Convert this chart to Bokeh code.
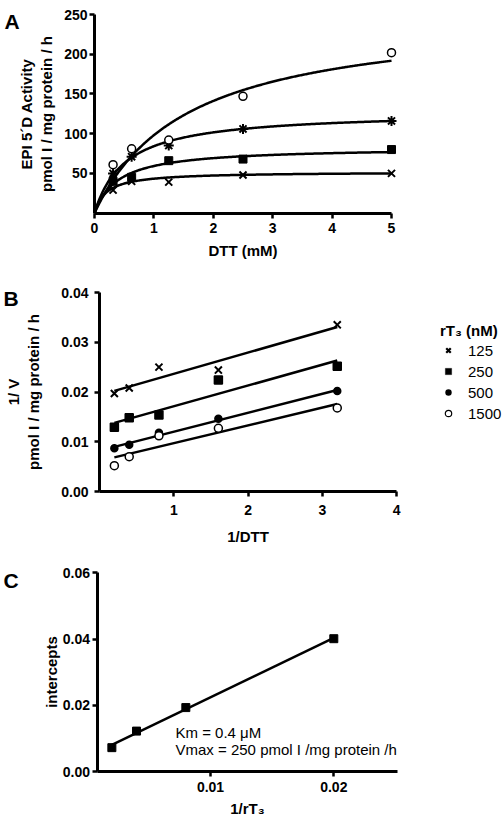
import numpy as np
from bokeh.plotting import figure
from bokeh.layouts import column
from bokeh.models import (FixedTicker, NumeralTickFormatter, Legend, LegendItem,
                          Label, Range1d)
from bokeh.embed import file_html
from bokeh.resources import INLINE

# ---------------- Panel A data ----------------
dtt = [0.3125, 0.625, 1.25, 2.5, 5.0]
a_circle = [61, 81, 92, 147, 202]
a_asterisk = [50, 71, 85, 106, 116]
a_square = [40, 45, 66, 68, 80]
a_x = [29, 40, 39, 48, 50]
# fitted Michaelis-Menten parameters (Vmax, Km)
fit_circle = (252, 1.57)
fit_asterisk = (128, 0.52)
fit_square = (83, 0.40)
fit_x = (52, 0.20)
a_xticks = [0, 1, 2, 3, 4, 5]
a_yticks = [50, 100, 150, 200, 250]

# ---------------- Panel B data ----------------
inv_dtt = [0.2, 0.4, 0.8, 1.6, 3.2]
b_125 = [0.0197, 0.0208, 0.0250, 0.0244, 0.0335]
b_250 = [0.0129, 0.0148, 0.0154, 0.0224, 0.0252]
b_500 = [0.0087, 0.0094, 0.0118, 0.0146, 0.0202]
b_1500 = [0.0052, 0.0070, 0.0112, 0.0127, 0.0168]
b_labels = ["125", "250", "500", "1500"]
b_xticks = [1, 2, 3, 4]
b_yticks = [0.0, 0.01, 0.02, 0.03, 0.04]

# ---------------- Panel C data ----------------
inv_rt3 = [0.002, 0.004, 0.008, 0.020]
intercepts = [0.0072, 0.0122, 0.0193, 0.0401]
c_xticks = [0.01, 0.02]
c_yticks = [0.0, 0.02, 0.04, 0.06]

FONT = "Liberation Sans"
W = 504


class Map:
    """pixel <-> data mapping for a figure whose frame fills the whole canvas"""
    def __init__(self, w, h, x0, xppu, y0, yppu):
        self.w, self.h, self.x0, self.xppu, self.y0, self.yppu = w, h, x0, xppu, y0, yppu

    def ranges(self):
        return (Range1d(-self.x0 / self.xppu, (self.w - self.x0) / self.xppu),
                Range1d(-(self.h - self.y0) / self.yppu, self.y0 / self.yppu))

    def x(self, px):
        return (px - self.x0) / self.xppu

    def y(self, py):
        return (self.y0 - py) / self.yppu


def make_fig(m):
    xr, yr = m.ranges()
    p = figure(width=m.w, height=m.h, x_range=xr, y_range=yr,
               min_border_left=0, min_border_right=0, min_border_top=0, min_border_bottom=0,
               output_backend="svg", toolbar_location=None)
    p.grid.visible = False
    p.outline_line_color = None
    for ax in p.axis:
        ax.axis_line_width = 3
        ax.major_tick_line_width = 2.5
        ax.major_tick_out = 5
        ax.major_tick_in = 0
        ax.minor_tick_line_color = None
        ax.major_label_text_font = FONT
        ax.major_label_text_font_style = "bold"
        ax.major_label_text_font_size = "14px"
        ax.major_label_text_color = "black"
        ax.axis_label_text_font = FONT
        ax.axis_label_text_font_style = "bold"
        ax.axis_label_text_font_size = "15px"
        ax.axis_label_text_color = "black"
    return p


def panel_label(p, m, text, px, py):
    p.add_layout(Label(x=m.x(px), y=m.y(py), text=text, text_font=FONT,
                       text_font_style="bold", text_font_size="21px", text_color="black",
                       text_align="left", text_baseline="alphabetic"))


# ================= Panel A =================
mA = Map(W, 265, 94, 59.4, 212.6, 0.7944)
pA = make_fig(mA)
pA.xaxis.fixed_location = 0
pA.yaxis.fixed_location = 0
pA.xaxis.bounds = (0, 5)
pA.yaxis.bounds = (0, 250)
pA.xaxis.ticker = FixedTicker(ticks=a_xticks)
pA.yaxis.ticker = FixedTicker(ticks=a_yticks)
pA.xaxis.axis_label = "DTT (mM)"
pA.yaxis.axis_label = "EPI 5\u00b4D Activity\npmol I / mg protein / h"
pA.xaxis.major_label_standoff = 5
pA.yaxis.major_label_standoff = 2
pA.xaxis.axis_label_standoff = 5
pA.yaxis.axis_label_standoff = 6

xs = np.linspace(0, 5, 300)
for vmax, km in [fit_circle, fit_asterisk, fit_square, fit_x]:
    pA.line(xs, vmax * xs / (km + xs), line_color="black", line_width=2.5)
pA.scatter(dtt, a_x, marker="x", size=10, line_color="black", line_width=2)
pA.scatter(dtt, a_square, marker="square", size=8, color="black")
pA.scatter(dtt, a_asterisk, marker="asterisk", size=10, line_color="black", line_width=2)
pA.scatter(dtt, a_circle, marker="circle", size=8, line_color="black", line_width=1.5,
           fill_color="white")
panel_label(pA, mA, "A", 4, 21)

# ================= Panel B =================
mB = Map(W, 283, 99, 74.3, 226, 4975.0)
pB = make_fig(mB)
pB.xaxis.fixed_location = 0
pB.yaxis.fixed_location = 0
pB.xaxis.bounds = (0, 4)
pB.yaxis.bounds = (0, 0.04)
pB.xaxis.ticker = FixedTicker(ticks=b_xticks)
pB.yaxis.ticker = FixedTicker(ticks=b_yticks)
pB.yaxis.formatter = NumeralTickFormatter(format="0.00")
pB.xaxis.axis_label = "1/DTT"
pB.yaxis.axis_label = "1/ V\npmol I / mg protein / h"
pB.xaxis.major_label_standoff = 8
pB.yaxis.major_label_standoff = 6
pB.xaxis.axis_label_standoff = 10
pB.yaxis.axis_label_standoff = 16

series = [(b_125, "x", 10, "black"), (b_250, "square", 8, "black"),
          (b_500, "circle", 7, "black"), (b_1500, "circle", 8, "white")]
xarr = np.array(inv_dtt)
for ys, mk, sz, fc in series:
    slope, icpt = np.polyfit(xarr, np.array(ys), 1)
    xl = np.array([xarr.min(), xarr.max()])
    pB.line(xl, slope * xl + icpt, line_color="black", line_width=2.5)
for ys, mk, sz, fc in series:
    pB.scatter(inv_dtt, ys, marker=mk, size=sz, line_color="black",
               line_width=2 if mk == "x" else 1.5, fill_color=fc)

# legend-only glyph styles (no visible point in the plot)
legend_styles = [("x", "black", 2.2), ("square", "black", 0.3),
                 ("circle", "black", 0.0), ("circle", "white", 1.2)]
legend_renderers = []
for mk, fc, lw in legend_styles:
    r = pB.scatter([float("nan")], [float("nan")], marker=mk, size=8, line_color="black",
                   line_width=lw, fill_color=fc)
    legend_renderers.append(r)

legend = Legend(items=[LegendItem(label=l, renderers=[r])
                       for l, r in zip(b_labels, legend_renderers)],
                location=(440, mB.h - (422 - 265)), title="rT\u2083 (nM)",
                border_line_color=None, background_fill_alpha=0, padding=0, margin=0,
                spacing=3, glyph_width=16, glyph_height=18, label_height=18,
                label_standoff=12, label_text_font=FONT, label_text_font_size="15px",
                label_text_color="black",
                title_text_font=FONT, title_text_font_style="bold", title_text_font_size="15px",
                title_text_color="black", title_standoff=2)
pB.add_layout(legend)
panel_label(pB, mB, "B", 3, 298 - 265)

# ================= Panel C =================
mC = Map(W, 270, 86.7, 12330.0, 223, 3311.7)
pC = make_fig(mC)
pC.xaxis.fixed_location = 0
pC.yaxis.fixed_location = 0.0008
pC.xaxis.bounds = (0.0008, 0.0252)
pC.yaxis.bounds = (0, 0.06)
pC.xaxis.ticker = FixedTicker(ticks=c_xticks)
pC.yaxis.ticker = FixedTicker(ticks=c_yticks)
pC.xaxis.formatter = NumeralTickFormatter(format="0.00")
pC.yaxis.formatter = NumeralTickFormatter(format="0.00")
pC.xaxis.axis_label = "1/rT\u2083"
pC.yaxis.axis_label = "intercepts"
pC.xaxis.major_label_standoff = 5
pC.yaxis.major_label_standoff = 2
pC.xaxis.axis_label_standoff = 5
pC.yaxis.axis_label_standoff = 0

cx = np.array(inv_rt3)
cs, ci = np.polyfit(cx, np.array(intercepts), 1)
cl = np.array([cx.min(), cx.max()])
pC.line(cl, cs * cl + ci, line_color="black", line_width=2.5)
pC.scatter(inv_rt3, intercepts, marker="square", size=8, color="black")
pC.add_layout(Label(x=mC.x(175), y=mC.y(731.7 - 548), text="Km = 0.4 \u03bcM", text_font=FONT,
                    text_font_size="15px", text_color="black", text_baseline="middle"))
pC.add_layout(Label(x=mC.x(175), y=mC.y(749.3 - 548), text="Vmax = 250 pmol I /mg protein /h",
                    text_font=FONT, text_font_size="15px", text_color="black",
                    text_baseline="middle"))
panel_label(pC, mC, "C", 3, 580 - 548)

layout = column(pA, pB, pC, spacing=0)
open("out.html", "w").write(file_html(layout, INLINE))
